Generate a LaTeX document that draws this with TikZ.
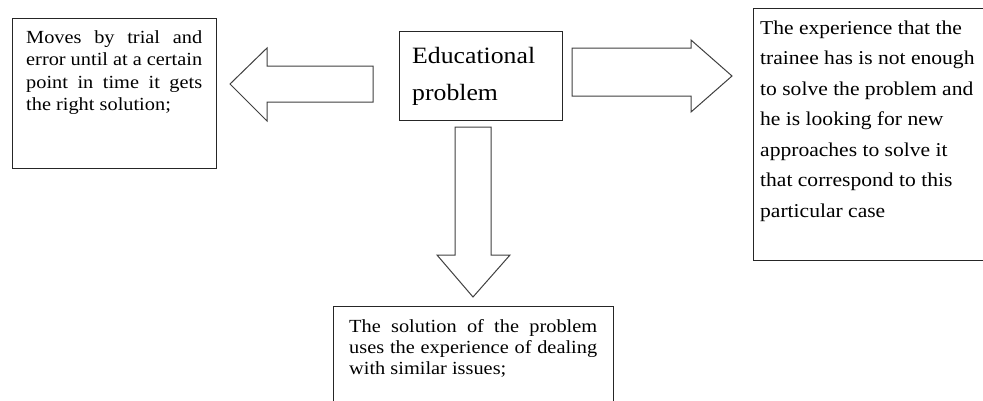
\documentclass[tikz,border=0pt]{standalone}
\usepackage{fontspec}
\setmainfont[FakeStretch=1.1]{Liberation Serif}
\begin{document}
\begin{tikzpicture}[x=1pt,y=-1pt,
    box/.style={draw=black!85, line width=1.2pt, inner sep=0pt, anchor=north west},
    txt/.style={inner sep=0pt, anchor=north west},
    blockarrow/.style={draw=black!75, line width=1pt, fill=white, line join=miter}]
        % Frame
            \clip (0,0) rectangle (983,400);
        % Boxes
            \node[box, minimum width=163pt, minimum height=89pt] (problembox) at (399,31) {};
            \node[box, minimum width=204pt, minimum height=150pt] (trialbox) at (12,18) {};
            \node[box, minimum width=240pt, minimum height=252pt] (newbox) at (753,8) {};
            \node[box, minimum width=280pt, minimum height=110pt] (similarbox) at (333,306) {};
        % Texts
            \node[txt, align=left, font={\fontsize{23.4}{37.5}\selectfont}] (problem) at (412,47) {Educational\\problem};
            \node[txt, text width=176pt, align=justify, font={\fontsize{18.5}{22.5}\selectfont\tolerance=9999}] (trial) at (26,30.4)
                {Moves by trial and\linebreak error until at a certain\linebreak point in time it gets\linebreak the right solution;};
            \node[txt, align=left, font={\fontsize{19.6}{30.5}\selectfont}] (new) at (760,20.6)
                {The experience that the\\trainee has is not enough\\to solve the problem and\\he is looking for new\\approaches to solve it\\that correspond to this\\particular case};
            \node[txt, text width=248pt, align=justify, font={\fontsize{18.5}{20.7}\selectfont\tolerance=9999}] (similar) at (349,319.4)
                {The solution of the problem\linebreak uses the experience of dealing\linebreak with similar issues;};
        % Block arrows
            \draw[blockarrow] (230,84) -- (267,48) -- (267,66) -- (373,66) -- (373,102) -- (267,102) -- (267,121) -- cycle;
            \draw[blockarrow] (572,48) -- (691,48) -- (691,40) -- (732,76) -- (691,112) -- (691,96) -- (572,96) -- cycle;
            \draw[blockarrow] (455,127) -- (491,127) -- (491,255) -- (510,255) -- (473,297) -- (437,255) -- (455,255) -- cycle;
        \end{tikzpicture}
\end{document}
